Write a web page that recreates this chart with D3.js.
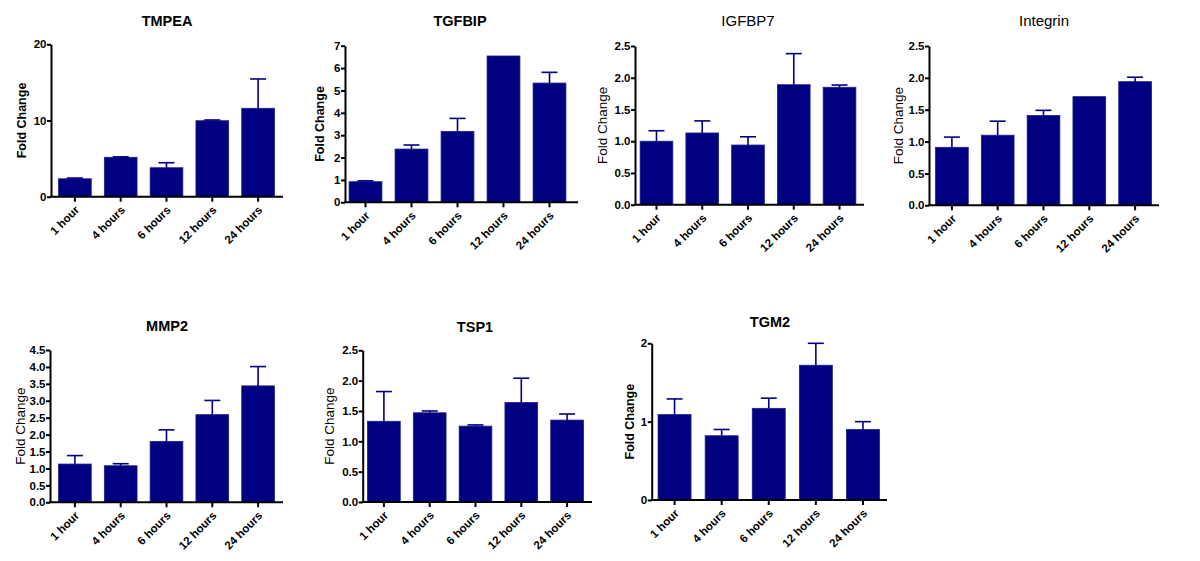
<!DOCTYPE html>
<html>
<head>
<meta charset="utf-8">
<script src="https://cdn.jsdelivr.net/npm/d3@7"></script>
<style>
  html, body { margin: 0; padding: 0; background: #fff; }
  svg { display: block; font-family: "Liberation Sans", Arial, sans-serif; }
</style>
</head>
<body>
<svg id="chart" width="1200" height="561"></svg>
<script>
// ---- data ----
const categories = ["1 hour", "4 hours", "6 hours", "12 hours", "24 hours"];

const tmpeaMean = [2.35, 5.17, 3.8, 9.97, 11.6];
const tmpeaErr  = [0.1, 0.06, 0.66, 0.1, 3.85];
const tmpeaTicks = [0, 10, 20];

const tgfbipMean = [0.92, 2.38, 3.17, 6.54, 5.33];
const tgfbipErr  = [0.04, 0.18, 0.58, 0, 0.48];
const tgfbipTicks = [0, 1, 2, 3, 4, 5, 6, 7];

const igfbp7Mean = [1.0, 1.13, 0.94, 1.89, 1.85];
const igfbp7Err  = [0.165, 0.19, 0.13, 0.49, 0.035];
const igfbp7Ticks = [0, 0.5, 1.0, 1.5, 2.0, 2.5];

const integrinMean = [0.91, 1.10, 1.41, 1.705, 1.94];
const integrinErr  = [0.16, 0.22, 0.08, 0, 0.07];
const integrinTicks = [0, 0.5, 1.0, 1.5, 2.0, 2.5];

const mmp2Mean = [1.13, 1.08, 1.80, 2.59, 3.44];
const mmp2Err  = [0.25, 0.06, 0.34, 0.42, 0.57];
const mmp2Ticks = [0, 0.5, 1.0, 1.5, 2.0, 2.5, 3.0, 3.5, 4.0, 4.5];

const tsp1Mean = [1.33, 1.47, 1.25, 1.64, 1.35];
const tsp1Err  = [0.49, 0.03, 0.02, 0.40, 0.10];
const tsp1Ticks = [0, 0.5, 1.0, 1.5, 2.0, 2.5];

const tgm2Mean = [1.09, 0.82, 1.17, 1.72, 0.90];
const tgm2Err  = [0.20, 0.08, 0.13, 0.28, 0.10];
const tgm2Ticks = [0, 1, 2];

const titles = ["TMPEA", "TGFBIP", "IGFBP7", "Integrin", "MMP2", "TSP1", "TGM2"];
const yLabel = "Fold Change";

// ---- layout (positions & styles) ----
const panels = [
  { title: titles[0], mean: tmpeaMean, err: tmpeaErr, ticks: tmpeaTicks, fmt: "d",
    ax: 51, top: 44.3, bottom: 196.7, band: [52, 281], pad: 0.286, xEnd: 283,
    titleX: 167, titleY: 26, titleBold: true, labX: 21, labBold: true },
  { title: titles[1], mean: tgfbipMean, err: tgfbipErr, ticks: tgfbipTicks, fmt: "d",
    ax: 345, top: 45.7, bottom: 202.3, band: [342.5, 572.5], pad: 0.286, xEnd: 578,
    titleX: 460, titleY: 26, titleBold: true, labX: 319, labBold: true },
  { title: titles[2], mean: igfbp7Mean, err: igfbp7Err, ticks: igfbp7Ticks, fmt: ".1f",
    ax: 635, top: 46, bottom: 204.7, band: [633.6, 862.4], pad: 0.286, xEnd: 864,
    titleX: 748, titleY: 26, titleBold: false, labX: 602, labBold: false },
  { title: titles[3], mean: integrinMean, err: integrinErr, ticks: integrinTicks, fmt: ".1f",
    ax: 929, top: 46, bottom: 205.3, band: [929, 1158], pad: 0.286, xEnd: 1159,
    titleX: 1044, titleY: 26, titleBold: false, labX: 898, labBold: false },
  { title: titles[4], mean: mmp2Mean, err: mmp2Err, ticks: mmp2Ticks, fmt: ".1f",
    ax: 50, top: 350, bottom: 502.3, band: [52, 281], pad: 0.286, xEnd: 283,
    titleX: 167, titleY: 331, titleBold: true, labX: 20, labBold: false },
  { title: titles[5], mean: tsp1Mean, err: tsp1Err, ticks: tsp1Ticks, fmt: ".1f",
    ax: 362.7, top: 350.3, bottom: 502, band: [361, 590], pad: 0.286, xEnd: 592,
    titleX: 475, titleY: 332, titleBold: true, labX: 329, labBold: false },
  { title: titles[6], mean: tgm2Mean, err: tgm2Err, ticks: tgm2Ticks, fmt: "d",
    ax: 651.7, top: 343.3, bottom: 500, band: [651, 886.5], pad: 0.3, xEnd: 887,
    titleX: 770, titleY: 327, titleBold: true, labX: 629, labBold: true }
];

const barColor = "#000080";
const svg = d3.select("#chart");

panels.forEach(p => {
  const g = svg.append("g");
  const yMax = p.ticks[p.ticks.length - 1];
  const y = d3.scaleLinear().domain([0, yMax]).range([p.bottom, p.top]);
  const x = d3.scaleBand().domain(categories).range(p.band)
    .paddingInner(p.pad).paddingOuter(p.pad / 2);
  const rows = categories.map((c, i) => ({ c, v: p.mean[i], e: p.err[i] }));

  // bars
  g.selectAll("rect.bar").data(rows).enter().append("rect")
    .attr("class", "bar")
    .attr("x", d => x(d.c))
    .attr("width", x.bandwidth())
    .attr("y", d => y(d.v))
    .attr("height", d => y(0) - y(d.v))
    .attr("fill", barColor)
    .attr("stroke", "#1c1c8c")
    .attr("stroke-width", 0.8);

  // error bars (upper)
  const eb = g.selectAll("g.err").data(rows.filter(d => d.e > 0)).enter().append("g");
  eb.append("line")
    .attr("x1", d => x(d.c) + x.bandwidth() / 2)
    .attr("x2", d => x(d.c) + x.bandwidth() / 2)
    .attr("y1", d => y(d.v))
    .attr("y2", d => y(d.v + d.e))
    .attr("stroke", barColor).attr("stroke-width", 1.6);
  eb.append("line")
    .attr("x1", d => x(d.c) + x.bandwidth() / 2 - 8)
    .attr("x2", d => x(d.c) + x.bandwidth() / 2 + 8)
    .attr("y1", d => y(d.v + d.e))
    .attr("y2", d => y(d.v + d.e))
    .attr("stroke", barColor).attr("stroke-width", 1.6);

  // y axis
  const ya = g.append("g")
    .attr("transform", `translate(${p.ax},0)`)
    .call(d3.axisLeft(y).tickValues(p.ticks).tickFormat(d3.format(p.fmt))
      .tickSize(4).tickSizeOuter(0).tickPadding(0.5));
  ya.select(".domain").attr("stroke", "#000").attr("stroke-width", 2);
  ya.selectAll(".tick line").attr("stroke", "#000").attr("stroke-width", 2);
  ya.selectAll(".tick text").attr("fill", "#000")
    .style("font-size", "11.5px").style("font-weight", "bold")
    .style("font-family", "'Liberation Sans', Arial, sans-serif");

  // x axis
  const xa = g.append("g")
    .attr("transform", `translate(0,${p.bottom})`)
    .call(d3.axisBottom(x).tickSize(5).tickSizeOuter(0));
  xa.select(".domain").remove();
  xa.append("line")
    .attr("x1", p.ax - 1).attr("x2", p.xEnd)
    .attr("y1", 0).attr("y2", 0)
    .attr("stroke", "#000").attr("stroke-width", 2);
  xa.selectAll(".tick line").attr("stroke", "#000").attr("stroke-width", 2);
  xa.selectAll(".tick text")
    .attr("fill", "#000")
    .attr("text-anchor", "end")
    .attr("x", 0).attr("y", 0).attr("dy", 0)
    .attr("transform", "translate(5,14) rotate(-45)")
    .style("font-size", "11.5px").style("font-weight", "bold")
    .style("font-family", "'Liberation Sans', Arial, sans-serif");

  // title
  g.append("text")
    .attr("x", p.titleX).attr("y", p.titleY)
    .attr("text-anchor", "middle")
    .style("font-size", p.titleBold ? "14.5px" : "15px")
    .style("font-weight", p.titleBold ? "bold" : "normal")
    .text(p.title);

  // y label
  g.append("text")
    .attr("transform", `translate(${p.labX + 4.5},${(p.top + p.bottom) / 2}) rotate(-90)`)
    .attr("text-anchor", "middle")
    .style("font-size", p.labBold ? "12.5px" : "13.5px")
    .style("font-weight", p.labBold ? "bold" : "normal")
    .text(yLabel);
});
</script>
</body>
</html>
